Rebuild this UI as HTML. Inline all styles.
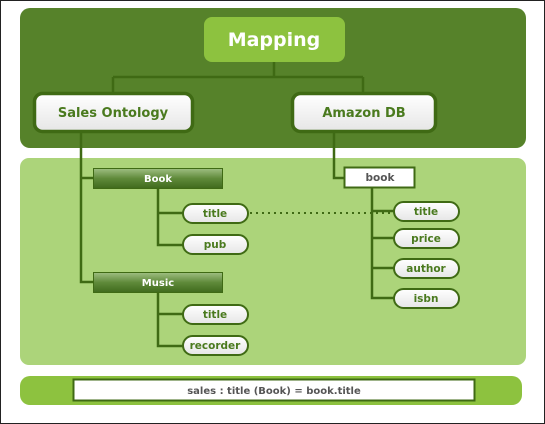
<!DOCTYPE html>
<html><head><meta charset="utf-8"><style>
html,body{margin:0;padding:0;background:#fff;}
svg{display:block;}
text{font-family:"DejaVu Sans","Liberation Sans",sans-serif;font-weight:bold;text-anchor:middle;}
</style></head><body>
<svg width="545" height="424" viewBox="0 0 545 424" xmlns="http://www.w3.org/2000/svg">
<defs>
<linearGradient id="wg" x1="0" y1="0" x2="0" y2="1"><stop offset="0" stop-color="#ffffff"/><stop offset="1" stop-color="#e6e6e6"/></linearGradient>
<linearGradient id="gg" x1="0" y1="0" x2="0" y2="1"><stop offset="0" stop-color="#9fbf82"/><stop offset="0.5" stop-color="#5f8a3a"/><stop offset="1" stop-color="#3f6a1c"/></linearGradient>
</defs>
<rect x="0.5" y="0.5" width="544" height="423" fill="#fff" stroke="#222"/>
<rect x="20" y="8" width="506" height="140" rx="10" fill="#56822a"/>
<rect x="20" y="158" width="506" height="207" rx="9" fill="#acd47a"/>
<rect x="20" y="376" width="502" height="29" rx="10" fill="#8dc23f"/>
<g stroke="#3f6a14" stroke-width="2.5" fill="none">
<path d="M274 62V77M113 77H363M113 77V94M363 77V94"/>
<path d="M81 132V282H94M81 178H94"/>
<path d="M158 188V245H183M158 213H183"/>
<path d="M158 292V346H183M158 314H183"/>
<path d="M334 132V178H345"/>
<path d="M372 188V298H394M372 211H394M372 238H394M372 268H394"/>
</g>
<path d="M250 213H393" stroke="#3f6a14" stroke-width="2" stroke-dasharray="2 4"/>
<rect x="204" y="17" width="141" height="45" rx="8" fill="#8dc23f"/>
<text x="274" y="46" font-size="19" fill="#fff">Mapping</text>
<rect x="34.5" y="93.5" width="158" height="38" rx="8" fill="url(#wg)" stroke="#3f6a14" stroke-width="3.5"/>
<text x="113" y="117" font-size="13" fill="#4a7a1e">Sales Ontology</text>
<rect x="292.5" y="93.5" width="143" height="38" rx="8" fill="url(#wg)" stroke="#3f6a14" stroke-width="3.5"/>
<text x="364" y="117" font-size="13" fill="#4a7a1e">Amazon DB</text>
<rect x="93.5" y="168.5" width="129" height="20" fill="url(#gg)" stroke="#3f6a14"/>
<text x="158" y="182" font-size="10" fill="#fff">Book</text>
<rect x="93.5" y="272.5" width="129" height="20" fill="url(#gg)" stroke="#3f6a14"/>
<text x="158" y="286" font-size="10" fill="#fff">Music</text>
<rect x="344.5" y="167.5" width="70" height="20" fill="#fff" stroke="#3f6a14" stroke-width="2"/>
<text x="380" y="181" font-size="10.5" fill="#555">book</text>
<g stroke="#3f6a14" stroke-width="2" fill="url(#wg)">
<rect x="183" y="204" width="65" height="19" rx="9.5"/>
<rect x="183" y="235" width="65" height="19" rx="9.5"/>
<rect x="183" y="305" width="65" height="19" rx="9.5"/>
<rect x="183" y="336" width="65" height="19" rx="9.5"/>
<rect x="394" y="202" width="65" height="19" rx="9.5"/>
<rect x="394" y="229" width="65" height="19" rx="9.5"/>
<rect x="394" y="259" width="65" height="19" rx="9.5"/>
<rect x="394" y="289" width="65" height="19" rx="9.5"/>
</g>
<g font-size="10.5" fill="#4a7a1e">
<text x="215" y="217">title</text>
<text x="215" y="248">pub</text>
<text x="215" y="318">title</text>
<text x="215" y="349">recorder</text>
<text x="426" y="215">title</text>
<text x="426" y="242">price</text>
<text x="426" y="272">author</text>
<text x="426" y="302">isbn</text>
</g>
<rect x="73.5" y="379.5" width="401" height="21" fill="#fff" stroke="#3f6a14" stroke-width="2"/>
<text x="274" y="394" font-size="10" fill="#555">sales : title (Book) = book.title</text>
</svg>
</body></html>
